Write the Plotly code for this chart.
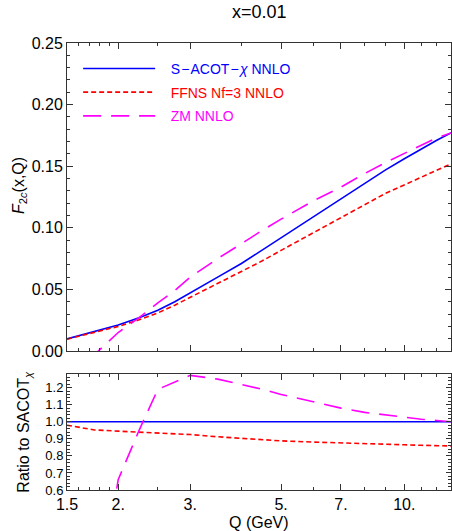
import plotly.graph_objects as go
import numpy as np

# ---------------- data ----------------
Q = [1.5, 1.75, 2.0, 2.25, 2.5, 2.75, 3.0, 3.5, 4.0, 4.5, 5.0, 6.0, 7.0,
     8.0, 9.0, 10.0, 11.0, 12.0, 13.0]

sacot = [0.0098, 0.0155, 0.0210, 0.0270, 0.0330, 0.0400, 0.0470, 0.0600,
         0.0710, 0.0820, 0.0920, 0.1090, 0.1230, 0.1360, 0.1470, 0.1560,
         0.1640, 0.1710, 0.1770]
ffns = [0.0096, 0.0148, 0.0199, 0.0253, 0.0309, 0.0372, 0.0435, 0.0546,
        0.0641, 0.0732, 0.0817, 0.0960, 0.1076, 0.1187, 0.1280, 0.1349,
        0.1415, 0.1470, 0.1519]
zm = [-0.022, -0.003, 0.015, 0.027, 0.039, 0.049, 0.060, 0.075, 0.087,
      0.098, 0.107, 0.122, 0.133, 0.144, 0.153, 0.160, 0.167, 0.173, 0.177]

ratio_sacot = [1.0] * len(Q)
ratio_ffns = [0.980, 0.952, 0.945, 0.940, 0.935, 0.930, 0.925, 0.912,
              0.903, 0.895, 0.888, 0.881, 0.875, 0.871, 0.868, 0.865,
              0.862, 0.860, 0.858]
ratio_zm = [-2.0, -0.2, 0.66, 0.95, 1.19, 1.235, 1.272, 1.250, 1.220,
            1.190, 1.160, 1.115, 1.080, 1.055, 1.040, 1.025, 1.015,
            1.007, 1.000]

x_tickvals = [1.5, 2, 3, 5, 7, 10]
x_ticktext = ["1.5", "2.", "3.", "5.", "7.", "10."]
x_minor = [1.6, 1.7, 1.8, 1.9, 2.5, 4, 6, 8, 9, 11, 12]

title_text = "x=0.01"
names = ["S\u200a\u2212\u200aACOT\u200a\u2212\u200a<i>\u03c7</i> NNLO",
         "FFNS Nf=3 NNLO", "ZM NNLO"]
colors = ["#0000FF", "#FF0000", "#FF00FF"]
dashes = ["solid", "5px,3px", "18px,10px"]

FONT = "Liberation Sans, Arial, Helvetica, sans-serif"
FRAME = "#333333"
PAD = "\u2002\u2005"

fig = go.Figure()
top = [sacot, ffns, zm]
bot = [ratio_sacot, ratio_ffns, ratio_zm]
for i in range(3):
    fig.add_trace(go.Scatter(
        x=Q, y=top[i], mode="lines", xaxis="x", yaxis="y",
        line=dict(color=colors[i], width=1.6, dash=dashes[i]),
        name="<span style='color:%s'>%s%s</span>" % (colors[i], PAD, names[i]),
        legendgroup="g%d" % i, showlegend=True))
for i in range(3):
    fig.add_trace(go.Scatter(
        x=Q, y=bot[i], mode="lines", xaxis="x2", yaxis="y2",
        line=dict(color=colors[i], width=1.6, dash=dashes[i]),
        showlegend=False))

xr = [np.log10(1.5), np.log10(13.0)]
common_x = dict(type="log", range=xr, showgrid=False, zeroline=False,
                showline=True, linecolor=FRAME, linewidth=1, mirror="ticks",
                ticks="inside", ticklen=6, tickcolor=FRAME,
                tickvals=x_tickvals, ticktext=x_ticktext,
                minor=dict(tickvals=x_minor, ticks="inside", ticklen=3,
                           tickcolor=FRAME),
                tickfont=dict(family=FONT, size=16, color="#000"))

fig.update_layout(
    width=452, height=531,
    margin=dict(l=67, r=1, t=43, b=41),
    plot_bgcolor="white", paper_bgcolor="white",
    xaxis=dict(common_x, anchor="y", showticklabels=False),
    xaxis2=dict(common_x, anchor="y2", matches="x", showticklabels=True),
    yaxis=dict(domain=[0.311, 1.0], range=[0, 0.25], showgrid=False,
               zeroline=False, showline=True, linecolor=FRAME, linewidth=1,
               mirror="ticks", ticks="inside", ticklen=6, tickcolor=FRAME,
               dtick=0.05, tickformat=".2f",
               minor=dict(dtick=0.01, ticks="inside", ticklen=3,
                          tickcolor=FRAME),
               tickfont=dict(family=FONT, size=16, color="#000")),
    yaxis2=dict(domain=[0.0, 0.2595], range=[0.6, 1.28], showgrid=False,
                zeroline=False, showline=True, linecolor=FRAME, linewidth=1,
                mirror="ticks", ticks="inside", ticklen=5, tickcolor=FRAME,
                dtick=0.1, tick0=0.6, tickformat=".1f",
                minor=dict(dtick=0.02, ticks="inside", ticklen=3,
                           tickcolor=FRAME),
                tickfont=dict(family=FONT, size=13, color="#000")),
    showlegend=True,
    legend=dict(x=0.029, y=0.978, xref="paper", yref="paper",
                xanchor="left", yanchor="top",
                bgcolor="rgba(0,0,0,0)", itemwidth=72,
                font=dict(family=FONT, size=14),
                tracegroupgap=2.5),
    annotations=[
        dict(text=title_text, xref="paper", yref="paper", x=0.5, y=1,
             yshift=19, yanchor="bottom", showarrow=False,
             font=dict(family=FONT, size=18, color="#000"),
             xanchor="center"),
        dict(text="<i>F</i><sub>2<i>c</i></sub>(x,Q)", xref="paper",
             yref="paper", x=-0.125, y=0.68, textangle=-90,
             showarrow=False, xanchor="center", yanchor="middle",
             font=dict(family=FONT, size=16, color="#000")),
        dict(text="Ratio to SACOT<sub><i>\u03c7</i></sub>", xref="paper",
             yref="paper", x=-0.11, y=0.13, textangle=-90,
             showarrow=False, xanchor="center", yanchor="middle",
             font=dict(family=FONT, size=16, color="#000")),
        dict(text="Q (GeV)", xref="paper", yref="paper", x=0.5, y=0,
             yshift=-22, yanchor="top", showarrow=False,
             font=dict(family=FONT, size=16, color="#000")),
    ],
)

fig.write_html("out.html")
